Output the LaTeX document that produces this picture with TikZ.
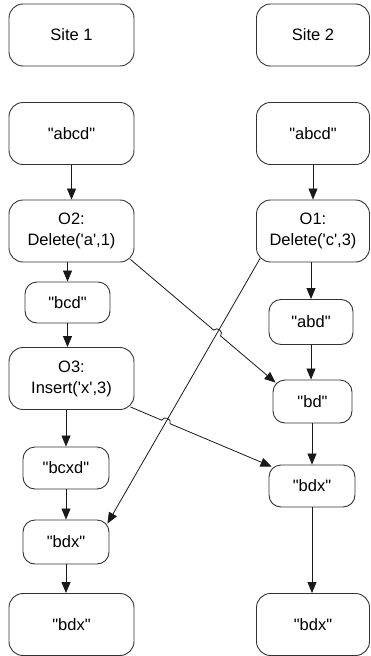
\documentclass[tikz,border=0pt]{standalone}
\usepackage{fontspec}
\newfontfamily\af{Liberation Sans}
\usetikzlibrary{calc,arrows.meta}
\begin{document}
\begin{tikzpicture}[x=1pt,y=-1pt,
  box/.style={draw=black!80, line width=0.9pt, align=center, inner sep=0pt,
    font=\af\fontsize{16.5}{21}\selectfont},
  big/.style={box, rounded corners=14pt, minimum width=125pt, minimum height=62pt},
  bigr/.style={big, minimum width=113pt},
  small/.style={box, rounded corners=12pt, minimum width=86pt, minimum height=43pt},
  arr/.style={draw=black!90, line width=0.8pt, -{Triangle[length=11pt,width=9pt]}}]
\useasboundingbox (0,0) rectangle (371,656);
% left column
\node[big] (site1) at (71.5,35) {Site 1};
\node[big] (abcd1) at (71.5,133.5) {"abcd"};
\node[big] (O2) at (71.5,231) {O2:\\Delete('a',1)};
\node[small, minimum width=85pt, minimum height=41pt] (bcd) at (67.5,302.5) {"bcd"};
\node[big] (O3) at (71.5,378.5) {O3:\\Insert('x',3)};
\node[small, minimum height=42pt] (bcxd) at (66,468) {"bcxd"};
\node[small, minimum height=44pt] (bdx1) at (66,542) {"bdx"};
\node[big] (final1) at (71.5,624.5) {"bdx"};
% right column
\node[bigr] (site2) at (313,35) {Site 2};
\node[bigr] (abcd2) at (313,133.5) {"abcd"};
\node[bigr] (O1) at (313,231) {O1:\\Delete('c',3)};
\node[small, minimum width=84pt, minimum height=45pt] (abd) at (311,322) {"abd"};
\node[small, minimum width=79pt, minimum height=43pt] (bd) at (312.5,401.5) {"bd"};
\node[small, minimum height=42pt] (bdx2) at (312,486) {"bdx"};
\node[bigr] (final2) at (313,624.5) {"bdx"};
% vertical arrows
\draw[arr] (abcd1.south -| O2.north) -- (O2.north);
\draw[arr] (O2.south -| bcd.north) -- (bcd.north);
\draw[arr] (bcd.south) -- (bcd.south |- O3.north);
\draw[arr] (O3.south -| bcxd.north) -- (bcxd.north);
\draw[arr] (bcxd.south) -- (bdx1.north);
\draw[arr] (bdx1.south) -- (bdx1.south |- final1.north);
\draw[arr] (abcd2.south) -- (O1.north);
\draw[arr] (O1.south -| abd.north) -- (abd.north);
\draw[arr] (abd.south) -- (abd.south |- bd.north);
\draw[arr] (bd.south -| bdx2.north) -- (bdx2.north);
\draw[arr] (bdx2.south) -- (bdx2.south |- final2.north);
% crossing connectors
\coordinate (a1) at ($(O2.south east)+(-4,-3)$);
\coordinate (a2) at ($(bd.north west)+(3,3)$);
\coordinate (b1) at ($(O1.south west)+(4,-4)$);
\coordinate (b2) at ($(bdx1.north east)+(-2,4)$);
\coordinate (c1) at ($(O3.south east)+(-4,-3)$);
\coordinate (c2) at ($(bdx2.north west)+(3,2)$);
\coordinate (X1) at (intersection of a1--a2 and b1--b2);
\coordinate (X2) at (intersection of c1--c2 and b1--b2);
\draw[arr] (b1) -- (b2);
\draw[arr] (a1) -- ($(X1)!4.5pt!(a1)$) to[bend left=90, looseness=1.5] ($(X1)!4.5pt!(a2)$) -- (a2);
\draw[arr] (c1) -- ($(X2)!4.5pt!(c1)$) to[bend left=90, looseness=1.5] ($(X2)!4.5pt!(c2)$) -- (c2);
\end{tikzpicture}
\end{document}
